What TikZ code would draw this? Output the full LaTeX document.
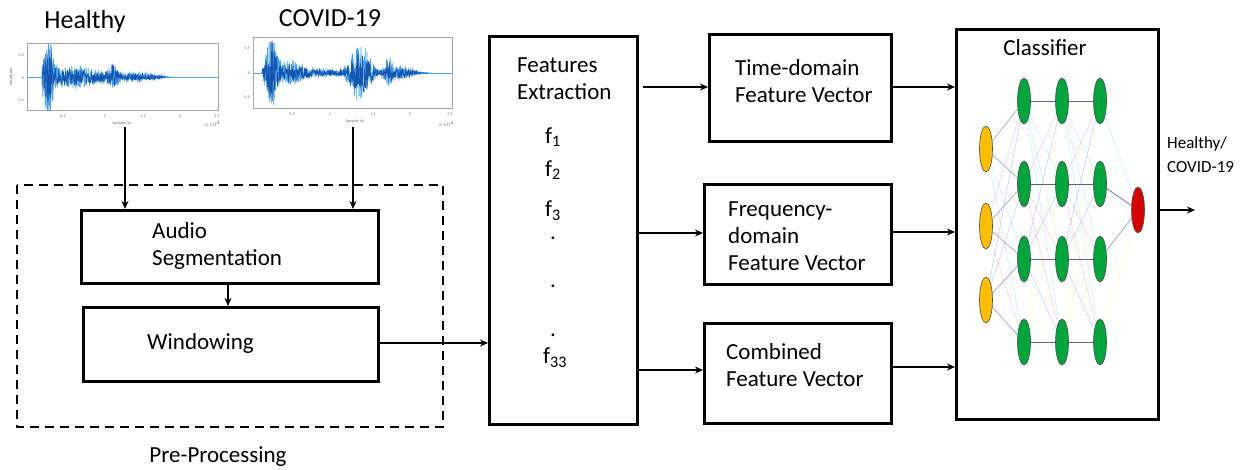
\documentclass[tikz,border=0pt]{standalone}
\usepackage{fontspec}
\setmainfont{Carlito}
\usetikzlibrary{shapes.geometric,arrows.meta,backgrounds}
\definecolor{wavedark}{RGB}{20,85,175}
\definecolor{wavelight}{RGB}{70,165,240}
\definecolor{nngreen}{RGB}{0,165,60}
\definecolor{nnyellow}{RGB}{255,190,0}
\definecolor{nnred}{RGB}{215,0,0}
\definecolor{edgedark}{RGB}{95,95,150}
\begin{document}
\begin{tikzpicture}[x=1pt,y=-1pt,
  box/.style={draw, line width=2.6pt, inner sep=0, anchor=north west},
  lbl/.style={font=\fontsize{23}{27}\selectfont, align=left, inner sep=0, anchor=west},
  arr/.style={line width=2.3pt, -{Stealth[length=8pt,width=7pt]}},
  pbox/.style={draw=gray!70, line width=0.6pt, inner sep=0, anchor=north west},
  tick/.style={font=\fontsize{4}{4}\selectfont, text=gray!80!black, inner sep=0},
  ell/.style={ellipse, draw=black!70, line width=0.6pt, minimum width=13pt, minimum height=46pt, inner sep=0},
  faint/.style={line width=0.4pt, opacity=0.45},
  declare function={
    envh(\x)=33*exp(-((\x-48)/6)^2)+11*exp(-((\x-75)/35)^2)+12*exp(-((\x-113)/5)^2)+4*exp(-((\x-140)/20)^2);
    envc(\x)=42*exp(-((\x-271)/6)^2)+12*exp(-((\x-290)/15)^2)+4*exp(-((\x-320)/20)^2)+30*exp(-((\x-360)/12)^2)+14*exp(-((\x-388)/4)^2)+7*exp(-((\x-400)/15)^2);
  }]
\useasboundingbox (0,0) rectangle (1250,470);

% ---------- top labels ----------
\node[font=\fontsize{26}{30}\selectfont, inner sep=0] (lh) at (85,22) {Healthy};
\node[font=\fontsize{26}{30}\selectfont, inner sep=0] (lc) at (330,18) {COVID-19};

% ---------- healthy waveform ----------
\node[pbox, minimum width=191pt, minimum height=67pt] (hplot) at (27,43) {};
\begin{scope}
  \clip (hplot.south west) rectangle (hplot.north east);
  \draw[wavelight, line width=0.8pt] (27,77) -- (218,77);
  \pgfmathsetseed{7}
  \draw[wavelight, line width=0.7pt] plot[domain=42:170, samples=480] (\x, {77+envh(\x)*rand});
  \pgfmathsetseed{3}
  \draw[wavedark, line width=0.6pt] plot[domain=42:165, samples=440] (\x, {77+0.75*envh(\x)*rand});
\end{scope}
\foreach \xx/\tt in {63/0.5,105/1,143/1.5,180/2,217/2.5} \node[tick] at (\xx,116) {\tt};
\foreach \yy/\tt in {55/0.5,78/0,100/-0.5} \node[tick, anchor=east] at (24,\yy) {\tt};
\node[tick, rotate=90] at (11,77) {Amplitude};
\node[tick] at (122,123) {Samples (n)};
\node[tick] at (212,124) {$\times10^4$};

% ---------- covid waveform ----------
\node[pbox, minimum width=199pt, minimum height=71pt] (cplot) at (253,37) {};
\begin{scope}
  \clip (cplot.south west) rectangle (cplot.north east);
  \draw[wavelight, line width=0.8pt] (253,73) -- (452,73);
  \pgfmathsetseed{11}
  \draw[wavelight, line width=0.7pt] plot[domain=262:432, samples=600] (\x, {73+envc(\x)*rand});
  \pgfmathsetseed{5}
  \draw[wavedark, line width=0.6pt] plot[domain=262:428, samples=540] (\x, {73+0.75*envc(\x)*rand});
\end{scope}
\foreach \xx/\tt in {292/0.5,330/1,373/1.5,410/2,450/2.5} \node[tick] at (\xx,114) {\tt};
\foreach \yy/\tt in {48/0.5,73/0,97/-0.5} \node[tick, anchor=east] at (250,\yy) {\tt};
\node[tick] at (355,121) {Samples (n)};
\node[tick] at (446,124) {$\times10^4$};

% ---------- pre-processing ----------
\draw[line width=2.8pt, dash pattern=on 9pt off 6pt] (17,185) rectangle (443,427);
\node[font=\fontsize{23}{27}\selectfont, inner sep=0, anchor=north] (pre) at (218,446) {Pre-Processing};

\node[box, minimum width=297pt, minimum height=73pt] (audio) at (80,209) {};
\node[lbl] (audiot) at (152,246) {Audio\\Segmentation};
\node[box, minimum width=295pt, minimum height=74pt] (win) at (82,306) {};
\node[lbl] (wint) at (147,343) {Windowing};

\coordinate (hs) at (125,127);
\coordinate (cs) at (353,127);
\draw[arr] (hs) -- (hs |- audio.north);
\draw[arr] (cs) -- (cs |- audio.north);
\draw[arr] (audio.south -| 228,0) -- (win.north -| 228,0);

% ---------- features ----------
\node[box, minimum width=148pt, minimum height=388pt] (feat) at (488,35) {};
\node[lbl] (featt) at (517,79) {Features\\Extraction};
\node[font=\fontsize{23}{27}\selectfont, inner sep=0] (f1) at (553,137) {f\textsubscript{1}};
\node[font=\fontsize{23}{27}\selectfont, inner sep=0] (f2) at (553,170) {f\textsubscript{2}};
\node[font=\fontsize{23}{27}\selectfont, inner sep=0] (f3) at (553,211) {f\textsubscript{3}};
\node[font=\fontsize{23}{27}\selectfont, inner sep=0, anchor=base] (d1) at (553,240) {.};
\node[font=\fontsize{23}{27}\selectfont, inner sep=0, anchor=base] (d2) at (553,288) {.};
\node[font=\fontsize{23}{27}\selectfont, inner sep=0, anchor=base] (d3) at (553,336) {.};
\node[font=\fontsize{23}{27}\selectfont, inner sep=0] (f33) at (555,358) {f\textsubscript{33}};

\draw[arr] (win.east |- 0,343) -- (feat.west |- 0,343);

% ---------- feature vectors ----------
\node[box, minimum width=182pt, minimum height=107pt] (tdv) at (708,33) {};
\node[lbl] (tdvt) at (735,81) {Time-domain\\Feature Vector};
\node[box, minimum width=187pt, minimum height=100pt] (fdv) at (703,183) {};
\node[lbl] (fdvt) at (728,236) {Frequency-\\domain\\Feature Vector};
\node[box, minimum width=187pt, minimum height=100pt] (cdv) at (703,322) {};
\node[lbl] (cdvt) at (726,365) {Combined\\Feature Vector};

\draw[arr] ([xshift=4pt]feat.east |- 0,87) -- (tdv.west |- 0,87);
\draw[arr] (feat.east |- 0,233) -- (fdv.west |- 0,233);
\draw[arr] (feat.east |- 0,370) -- (cdv.west |- 0,370);

% ---------- classifier ----------
\node[box, minimum width=202pt, minimum height=390pt] (cls) at (955,28) {};
\node[font=\fontsize{23}{27}\selectfont, inner sep=0] (clst) at (1045,48) {Classifier};

\draw[arr] (tdv.east |- 0,87) -- (cls.west |- 0,87);
\draw[arr] (fdv.east |- 0,232) -- (cls.west |- 0,232);
\draw[arr] (cdv.east |- 0,367) -- (cls.west |- 0,367);

% network nodes
\foreach \i/\yy in {1/149,2/226,3/300} \node[ell, fill=nnyellow] (in\i) at (986,\yy) {};
\foreach \L/\xx in {a/1024,b/1062,c/1100}
  \foreach \j/\yy in {1/101,2/184,3/259,4/342}
    \node[ell, fill=nngreen] (\L\j) at (\xx,\yy) {};
\node[ell, fill=nnred] (out) at (1138,210) {};

\begin{scope}[on background layer]
  \foreach \i/\col in {1/cyan,2/magenta,3/blue}
    \foreach \j in {1,...,4} \draw[faint, \col!60] (in\i) -- (a\j);
  \foreach \L/\M in {a/b,b/c}
    \foreach \i/\col in {1/cyan,2/magenta,3/blue,4/yellow}
      \foreach \j in {1,...,4} \draw[faint, \col!60] (\L\i) -- (\M\j);
  \foreach \j/\col in {1/cyan,2/magenta,3/blue,4/yellow} \draw[faint, \col!60] (c\j) -- (out);
  \foreach \i/\j in {1/1,1/2,2/2,2/3,3/3,3/4} \draw[edgedark!70, line width=0.6pt, opacity=0.7] (in\i) -- (a\j);
  \foreach \j in {1,...,4} \draw[edgedark, line width=0.9pt] (a\j) -- (b\j) -- (c\j);
  \draw[edgedark!80, line width=0.8pt] (c2) -- (out);
  \draw[edgedark!60, line width=0.6pt] (c3) -- (out);
\end{scope}

\coordinate (oend) at (1195,210);
\draw[arr] (out -| cls.east) -- (oend);
\node[font=\fontsize{17}{24}\selectfont, align=left, inner sep=0, anchor=west] (res) at (1167,155) {Healthy/\\COVID-19};
\end{tikzpicture}
\end{document}
